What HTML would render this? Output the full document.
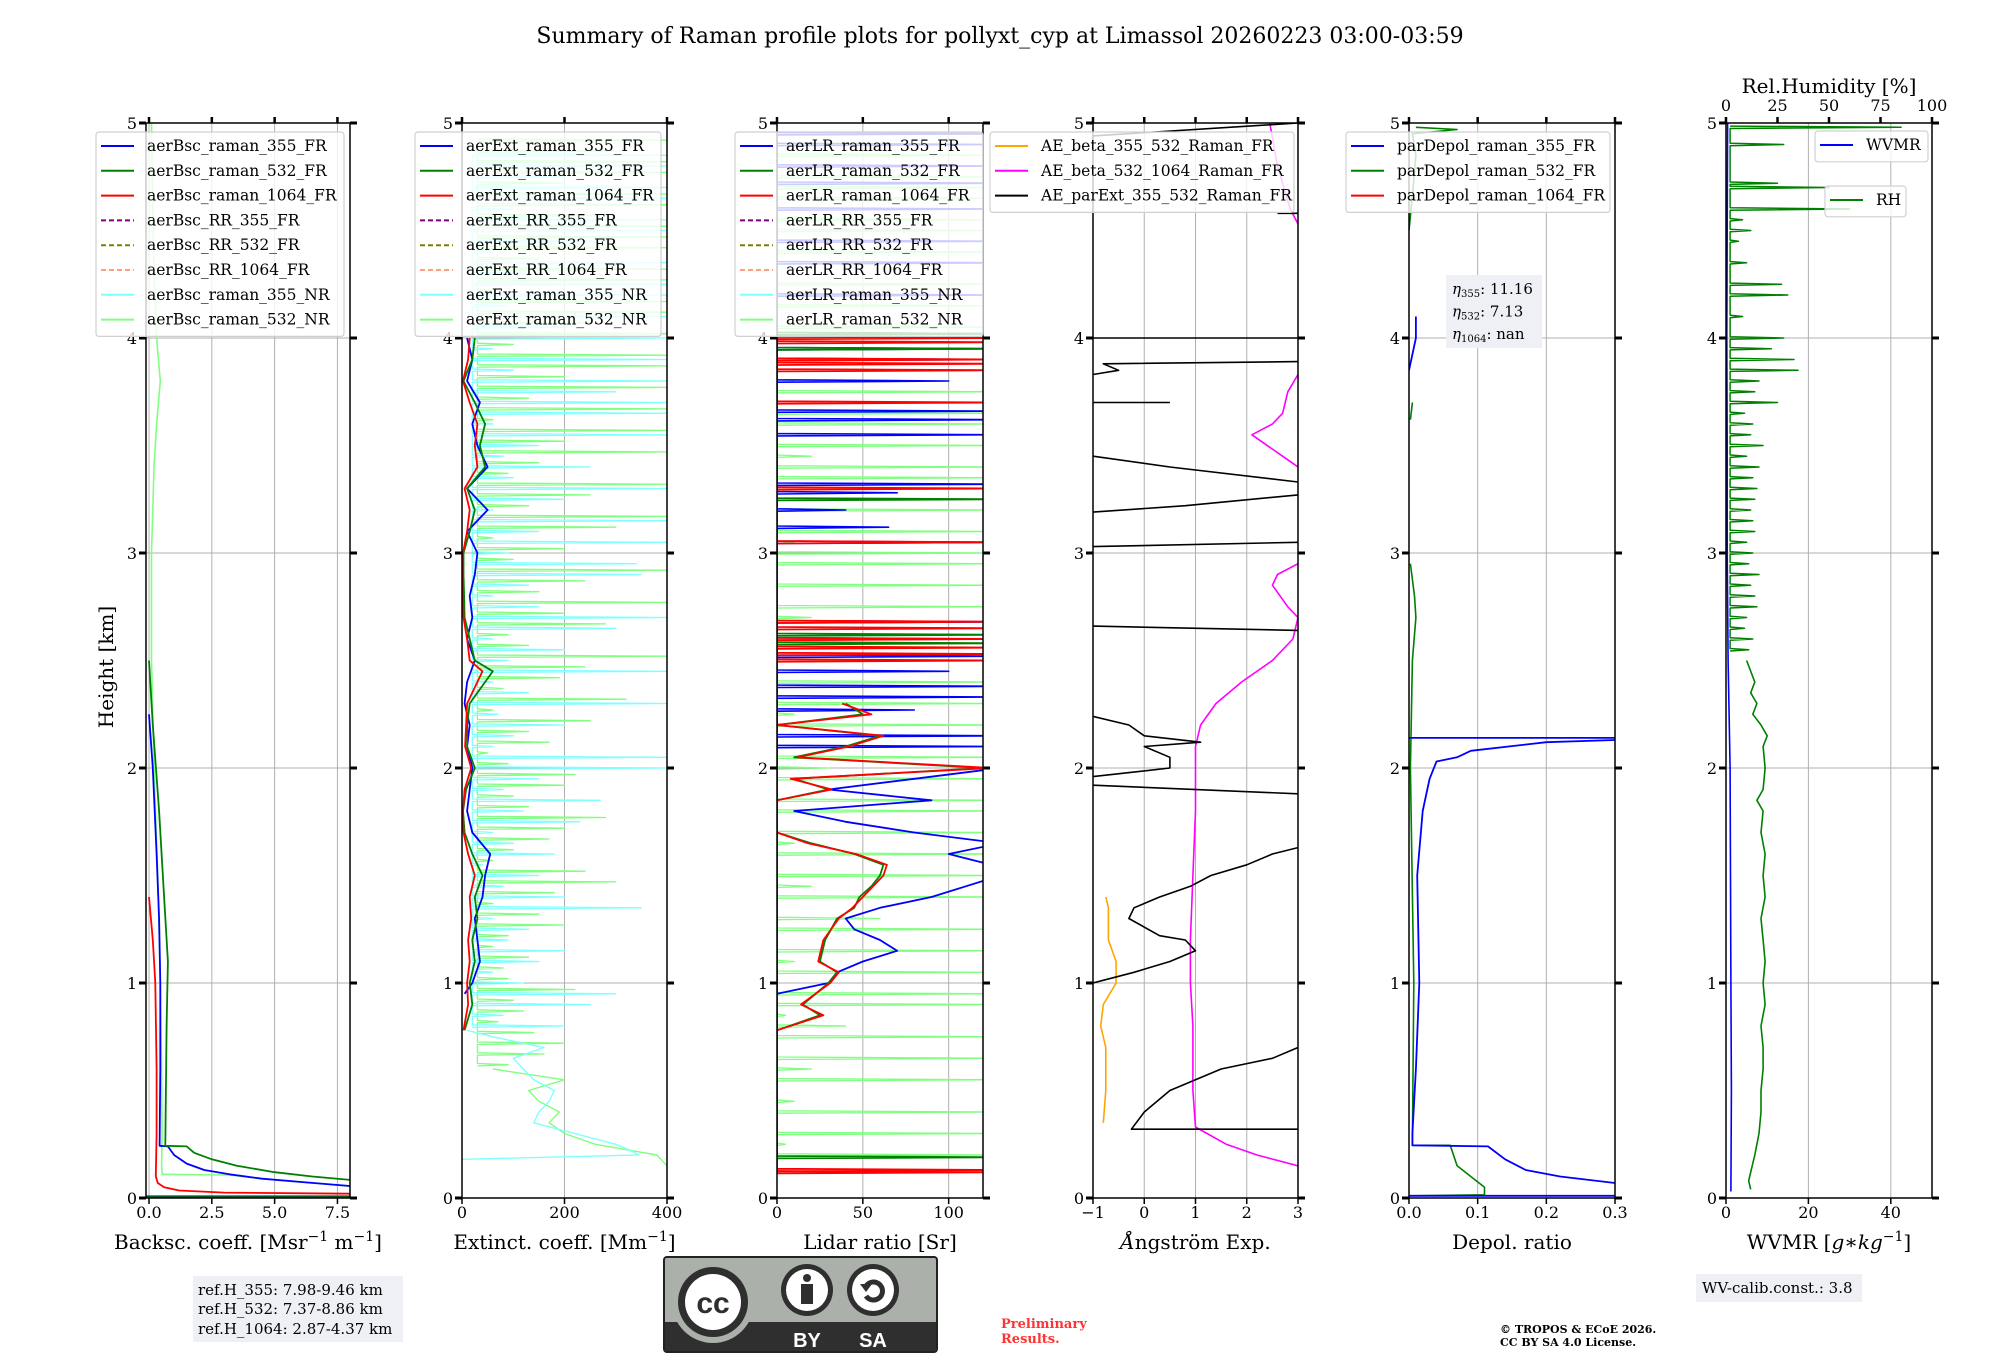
<!DOCTYPE html>
<html><head><meta charset="utf-8"><title>Raman profile summary</title>
<style>
html,body{margin:0;padding:0;background:#fff;}
svg{display:block;font-family:"DejaVu Serif","Liberation Serif",serif;}
</style></head>
<body>
<svg id="fig" xmlns="http://www.w3.org/2000/svg" width="2000" height="1360" viewBox="0 0 2000 1360">
<rect x="0" y="0" width="2000" height="1360" fill="#fff"/>
<text x="1000" y="43" font-size="22" text-anchor="middle">Summary of Raman profile plots for pollyxt_cyp at Limassol 20260223 03:00-03:59</text>
<text transform="translate(113,667) rotate(-90)" font-size="20" text-anchor="middle">Height [km]</text>
<g id="panels"></g>
<g>
<rect x="193" y="1276" width="210" height="66" fill="#eef0f5"/>
<text x="198" y="1295" font-size="15">ref.H_355: 7.98-9.46 km</text>
<text x="198" y="1314" font-size="15">ref.H_532: 7.37-8.86 km</text>
<text x="198" y="1334" font-size="15">ref.H_1064: 2.87-4.37 km</text>
</g>
<g>
<rect x="664" y="1257" width="273" height="95" rx="3" fill="#abb1aa" stroke="#222" stroke-width="2"/>
<rect x="665" y="1322" width="271" height="29" fill="#2f2f2f"/>
<circle cx="713" cy="1302" r="41" fill="#abb1aa"/>
<circle cx="713" cy="1302" r="35" fill="#2f2f2f"/>
<circle cx="713" cy="1302" r="28" fill="#fff"/>
<text x="713" y="1313" font-family="Liberation Sans,sans-serif" font-weight="bold" font-size="30" text-anchor="middle" fill="#2f2f2f">cc</text>
<circle cx="807" cy="1290" r="26" fill="#2f2f2f"/>
<circle cx="807" cy="1290" r="21" fill="#fff"/>
<circle cx="807" cy="1278" r="4" fill="#2f2f2f"/>
<rect x="801" y="1284" width="12" height="20" fill="#2f2f2f"/>
<circle cx="873" cy="1290" r="26" fill="#2f2f2f"/>
<circle cx="873" cy="1290" r="21" fill="#fff"/>
<path d="M866 1286 A9 9 0 1 1 866 1296" fill="none" stroke="#2f2f2f" stroke-width="5"/>
<polygon points="860,1284 872,1284 866,1292" fill="#2f2f2f"/>
<text x="807" y="1347" font-family="Liberation Sans,sans-serif" font-weight="bold" font-size="20" text-anchor="middle" fill="#fff">BY</text>
<text x="873" y="1347" font-family="Liberation Sans,sans-serif" font-weight="bold" font-size="20" text-anchor="middle" fill="#fff">SA</text>
</g>
<text x="1001" y="1328" font-size="13" font-weight="bold" fill="#ff3333">Preliminary</text>
<text x="1001" y="1343" font-size="13" font-weight="bold" fill="#ff3333">Results.</text>
<text x="1500" y="1333" font-size="11" font-weight="bold">© TROPOS &amp; ECoE 2026.</text>
<text x="1500" y="1346" font-size="11" font-weight="bold">CC BY SA 4.0 License.</text>
<g>
<rect x="1696" y="1274" width="166" height="28" fill="#eef0f5"/>
<text x="1702" y="1293" font-size="15">WV-calib.const.: 3.8</text>
</g>
</svg>
<script>
// ---------------- DATA ----------------
// Panel 1: backscatter [Mm-1 sr-1] vs height [km]
const bsc532NR_h=[5,4.6,4.3,4.0,3.8,3.6,3.4,3.2,3.0,2.5,2.0,1.5,1.0,0.6,0.3,0.15,0.11,0.107,0.09,0.075,0.065,0.055];
const bsc532NR_v=[0.1,0.15,0.2,0.3,0.45,0.3,0.2,0.15,0.1,0.1,0.2,0.35,0.45,0.5,0.52,0.5,0.53,3.2,4.5,6,7,8];
const bsc355_h=[2.25,2.0,1.6,1.3,1.0,0.6,0.243,0.24,0.2,0.16,0.13,0.11,0.09,0.075,0.056];
const bsc355_v=[0.0,0.15,0.3,0.4,0.45,0.45,0.42,0.75,1.0,1.5,2.2,3.2,4.5,6,8];
const bsc532_h=[2.5,2.2,1.8,1.4,1.1,0.8,0.243,0.24,0.21,0.18,0.15,0.12,0.1,0.084];
const bsc532_v=[0.0,0.15,0.4,0.6,0.75,0.7,0.65,1.5,1.8,2.5,3.5,5,6.5,8];
const bsc1064_h=[1.4,1.2,1.0,0.6,0.3,0.1,0.07,0.05,0.035,0.025,0.02];
const bsc1064_v=[0.0,0.15,0.25,0.3,0.3,0.27,0.35,0.6,1.2,3,8];
const bscLow_h=[0.005,0.005];
const bscLow_v=[-0.1,8];

// Panel 2: extinction [Mm-1]
const ext355_h=[0.95,1.0,1.1,1.2,1.3,1.4,1.5,1.6,1.7,1.8,1.9,2.0,2.1,2.2,2.3,2.4,2.5,2.6,2.7,2.8,2.9,3.0,3.1,3.2,3.3,3.4,3.5,3.6,3.7,3.8,3.9,4.0];
const ext355_v=[5,20,35,30,25,40,45,55,20,10,15,20,10,15,5,10,25,10,20,15,25,30,10,50,10,50,30,20,35,10,20,10];
const ext532_h=[0.78,0.9,1.0,1.1,1.2,1.3,1.4,1.5,1.6,1.7,1.8,1.9,2.0,2.1,2.2,2.3,2.4,2.45,2.5,2.6,2.7,2.8,2.9,3.0,3.1,3.2,3.3,3.4,3.5,3.6,3.7,3.8,3.9,4.0];
const ext532_v=[5,20,15,25,20,30,25,40,20,5,2,8,25,10,10,15,45,60,25,15,5,4,3,3,15,25,10,45,35,45,25,3,20,25];
const ext1064_h=[0.78,0.9,1.0,1.1,1.2,1.3,1.4,1.5,1.6,1.7,1.8,1.9,2.0,2.1,2.2,2.3,2.4,2.45,2.5,2.6,2.7,2.8,2.9,3.0,3.1,3.2,3.3,3.4,3.5,3.6,3.7,3.8,3.9,4.0];
const ext1064_v=[3,12,10,15,12,18,15,25,12,3,2,5,18,6,8,10,30,40,15,10,3,2,2,2,10,15,5,30,25,30,15,2,12,15];
const ext355NRlow_h=[0.18,0.2,0.22,0.25,0.3,0.35,0.4,0.45,0.5,0.55,0.6,0.65,0.7,0.75,0.78];
const ext355NRlow_v=[0,345,330,300,220,140,150,170,180,140,120,100,160,60,10];
const ext532NRlow_h=[0.15,0.2,0.25,0.3,0.35,0.4,0.45,0.5,0.55,0.6];
const ext532NRlow_v=[400,380,260,200,170,190,150,130,200,60];
const nrStepKm=0.05;
const ext355NRStartKm=0.8;
const ext355NR_v=[200,80,250,300,120,60,150,200,90,130,60,350,200,80,150,40,180,100,60,230,120,270,80,150,400,400,60,100,200,70,400,130,60,400,90,200,60,300,400,150,60,130,350,340,90,400,150,400,60,200,400,100,250,80,150,400,60,400,400,300,400,100,400,60,400,200,400,90,400,400,150,400,60,300,400,400,100,400,400,200,400,400];
const ext532NRStartKm=0.62;
const ext532NR_v=[90,160,200,140,70,120,100,220,90,80,130,60,90,200,150,60,180,300,240,60,100,170,200,280,130,100,200,220,90,50,170,130,250,60,320,80,190,240,400,130,90,280,200,400,150,240,400,100,200,60,300,400,130,250,400,90,150,400,200,400,60,400,130,400,200,400,400,100,400,250,400,400,60,400,400,150,400,400,400,300,400,400,200,400,400,300,400];

// Panel 3: lidar ratio [sr]
const lr355_h=[0.95,1.0,1.05,1.1,1.15,1.2,1.25,1.3,1.35,1.4,1.45,1.5,1.55,1.6,1.65,1.7,1.75,1.8,1.85,1.9,1.95,2.0];
const lr355_v=[0,30,35,50,70,60,45,40,60,90,110,130,125,100,130,80,40,10,90,30,80,130];
const lr355Spike_h=[2.1,2.15,2.27,2.33,2.38,2.45,2.52,2.6,2.68,3.05,3.12,3.2,3.28,3.32,3.55,3.62,3.66,3.8,3.9,3.95,4.02,4.2,4.35,4.45,4.6,4.72,4.8,4.9,4.95];
const lr355Spike_v=[130,130,80,130,130,100,130,130,130,130,65,40,70,130,130,130,130,100,130,130,130,130,130,130,130,130,130,130,130];
const lr532_h=[0.78,0.85,0.9,1.0,1.05,1.1,1.2,1.3,1.35,1.4,1.45,1.5,1.55,1.6,1.65,1.7,1.85,1.9,1.95,2.0,2.05,2.1,2.15,2.2,2.25,2.3];
const lr532_v=[0,25,15,30,35,25,28,35,45,48,55,60,62,45,20,0,0,30,10,120,10,40,60,0,50,40];
const lr1064_h=[0.78,0.85,0.9,1.0,1.05,1.1,1.2,1.3,1.35,1.4,1.45,1.5,1.55,1.6,1.65,1.7,1.85,1.9,1.95,2.0,2.05,2.1,2.15,2.2,2.25,2.3];
const lr1064_v=[0,27,14,31,36,24,27,36,44,50,56,62,64,46,18,0,0,32,8,125,12,42,62,0,55,38];
const lrRedSpike_h=[0.12,0.13,2.5,2.53,2.56,2.6,2.65,2.68,3.05,3.3,3.7,3.85,3.88,3.9,3.98,4.0];
const lrRedSpike_v=[130,130,130,130,130,130,130,130,130,130,130,130,130,130,130,130];
const lrGreenSpike_h=[0.19,2.58,2.62,3.25,3.95,4.02];
const lrGreenSpike_v=[130,130,130,130,130,130];
const lr532NRStartKm=0.2;
const lr532NR_v=[130,5,130,0,130,10,0,130,20,130,0,130,40,5,130,130,0,120,10,130,0,130,60,0,130,20,130,0,130,10,130,0,130,130,0,130,30,130,0,130,130,10,130,0,130,50,130,0,130,130,20,130,0,130,0,130,130,10,130,0,130,130,0,130,130,20,130,0,130,130,0,130,10,130,130,0,130,130,0,130,130,130,0,130,130,20,130,130,0,130,130,130,0,130,130,130];

// Panel 4: Angstrom exponents
const ae355_532_h=[0.35,0.5,0.7,0.8,0.9,1.0,1.1,1.2,1.35,1.4];
const ae355_532_v=[-0.8,-0.75,-0.75,-0.85,-0.8,-0.55,-0.55,-0.7,-0.7,-0.75];
const ae532_1064_h=[0.15,0.2,0.25,0.33,0.5,0.8,1.0,1.2,1.5,1.8,2.0,2.1,2.2,2.3,2.4,2.5,2.6,2.7,2.75,2.85,2.9,2.95,null,3.4,3.45,3.55,3.6,3.65,3.75,3.83,null,4.53,4.6,4.8,5.0];
const ae532_1064_v=[3,2.2,1.6,1.0,0.95,0.95,0.9,0.9,0.95,1.0,1.0,1.0,1.1,1.4,1.9,2.5,2.9,3.0,2.8,2.5,2.6,3.0,null,3.0,2.7,2.1,2.5,2.7,2.8,3.0,null,3.0,2.85,2.6,2.45];
const aeExt_h=[0.32,0.32,0.4,0.5,0.6,0.65,0.7,null,1.0,1.05,1.1,1.15,1.2,1.22,1.3,1.35,1.4,1.45,1.5,1.55,1.6,1.63,null,1.88,1.92,null,1.96,2.0,2.05,2.1,2.12,2.15,2.2,2.24,null,2.66,2.64,null,3.03,3.05,null,3.19,3.22,3.27,null,3.33,3.4,3.45,null,3.7,3.7,null,3.83,3.85,3.88,3.89,null,4.0,4.0,null,4.58,4.58,null,4.94,5.0];
const aeExt_v=[3,-0.25,0,0.5,1.5,2.5,3,null,-1,-0.2,0.5,1.0,0.8,0.3,-0.3,-0.2,0.3,0.9,1.3,2.0,2.5,3,null,3,-1,null,-1,0.5,0.5,0,1.1,0.0,-0.3,-1,null,-1,3,null,-1,3,null,-1,0.8,3,null,3,0.5,-1,null,-1,0.5,null,-1,-0.5,-0.8,3,null,-1,3,null,2.6,3,null,-1,3];

// Panel 5: particle depolarization ratio
const dep355_h=[0.01,0.01,null,0.07,0.1,0.13,0.18,0.24,0.245,0.3,0.6,1.0,1.5,1.8,1.95,2.03,2.05,2.08,2.12,2.13,null,2.14,2.14,null,3.85,4.0,4.1];
const dep355_v=[0,0.3,null,0.3,0.22,0.17,0.14,0.115,0.005,0.005,0.01,0.015,0.012,0.02,0.03,0.04,0.07,0.09,0.2,0.3,null,0.3,0.0,null,0.0,0.01,0.01];
const dep532_h=[0.01,0.015,0.05,0.1,0.15,0.245,0.245,1.0,2.0,2.5,2.7,2.8,2.95,null,3.62,3.7,null,4.5,4.6,4.7,4.85,4.95,4.97,4.98];
const dep532_v=[0.0,0.11,0.11,0.09,0.07,0.06,0.005,0.007,0.002,0.005,0.01,0.008,0.002,null,0.002,0.005,null,0.0,0.003,0.006,0.01,0.005,0.07,0.01];

// Panel 6: WVMR [g/kg] and RH [%]
const wvmr_h=[0.03,0.5,1.0,1.5,2.0,2.5,3.0,3.5,4.0,4.5,5.0];
const wvmr_v=[1.2,1.3,1.2,1.1,1.0,0.5,0.3,0.3,0.2,0.3,0.4];
const rhLow_h=[0.04,0.08,0.12,0.2,0.3,0.4,0.5,0.6,0.7,0.8,0.9,1.0,1.1,1.2,1.3,1.4,1.5,1.6,1.7,1.8,1.85,1.9,2.0,2.1,2.15,2.2,2.25,2.3,2.35,2.4,2.5];
const rhLow_v=[12,11,12,14,16,17,17,18,18,17,19,18,19,18,17,19,18,19,17,18,15,18,19,18,20,17,13,15,12,14,10];
const rhSpike_h=[2.55,2.6,2.65,2.7,2.75,2.8,2.85,2.9,2.95,3.0,3.05,3.1,3.15,3.2,3.25,3.3,3.35,3.4,3.45,3.5,3.55,3.6,3.65,3.7,3.75,3.8,3.85,3.9,3.95,4.0,4.1,4.2,4.25,4.35,4.45,4.5,4.55,4.6,4.7,4.72,4.9,4.98];
const rhSpike_v=[11,13,9,10,15,14,12,16,11,13,10,14,13,12,14,15,13,16,10,18,12,13,9,25,14,16,35,33,22,28,8,30,27,10,6,12,8,60,50,25,28,85];
const rhBase=2;

// axis tick labels
const p1Ticks=[0,2.5,5,7.5]; const p1Labels=["0.0","2.5","5.0","7.5"];
const p2Ticks=[0,200,400]; const p2Labels=["0","200","400"];
const p3Ticks=[0,50,100]; const p3Labels=["0","50","100"];
const p4Ticks=[-1,0,1,2,3]; const p4Labels=["\u22121","0","1","2","3"];
const p5Ticks=[0,0.1,0.2,0.3]; const p5Labels=["0.0","0.1","0.2","0.3"];
const p6Ticks=[0,20,40]; const p6Labels=["0","20","40"];
const rhTicks=[0,25,50,75,100]; const rhLabels=["0","25","50","75","100"];
const yTicks=[0,1,2,3,4,5];

// ---------------- DRAWING ----------------
const NS="http://www.w3.org/2000/svg";
const TOP=123, BOT=1198, HMAX=5;
const root=document.getElementById('panels');
function mk(tag,parent){const e=document.createElementNS(NS,tag);parent.appendChild(e);return e;}
function yS(h){return BOT-(h/HMAX)*(BOT-TOP);}

function makePanel(id,L,R,xmin,xmax){
  const p={L,R,xmin,xmax,g:mk('g',root)};
  
  
  p.x=v=>L+(v-xmin)/(xmax-xmin)*(R-L);
  const cp=mk('clipPath',p.g); cp.setAttribute('id','clip-'+id);
  const cr=mk('rect',cp); cr.setAttribute('x',L); cr.setAttribute('y',TOP); cr.setAttribute('width',R-L); cr.setAttribute('height',BOT-TOP);
  p.grid=mk('g',p.g);
  p.data=mk('g',p.g); p.data.setAttribute('clip-path','url(#clip-'+id+')');
  return p;
}
function grid(p,xt){
  xt.forEach(t=>{const l=mk('line',p.grid);
    
    
    const X=p.x(t);l.setAttribute('x1',X);l.setAttribute('x2',X);l.setAttribute('y1',TOP);l.setAttribute('y2',BOT);l.setAttribute('stroke','#b0b0b0');l.setAttribute('stroke-width','1');});
  yTicks.forEach(t=>{const l=mk('line',p.grid);
    
    
    const Y=yS(t);l.setAttribute('x1',p.L);l.setAttribute('x2',p.R);l.setAttribute('y1',Y);l.setAttribute('y2',Y);l.setAttribute('stroke','#b0b0b0');l.setAttribute('stroke-width','1');});
}
function drawPts(p,name,pts,color,w){
  const pl=mk('polyline',p.data);
  
  
  pl.setAttribute('points',pts.join(' '));pl.setAttribute('fill','none');pl.setAttribute('stroke',color);pl.setAttribute('stroke-width',w||1.6);
  pl.setAttribute('stroke-linejoin','round');
}
function series(p,name,hs,vs,color,w){
  let segs=[],cur=[];
  for(let i=0;i<hs.length;i++){
    if(hs[i]===null||vs[i]===null){if(cur.length)segs.push(cur);cur=[];continue;}
    cur.push(p.x(vs[i]).toFixed(1)+','+yS(hs[i]).toFixed(1));
  }
  if(cur.length)segs.push(cur);
  segs.forEach(s=>drawPts(p,name,s,color,w));
}
function spikes(p,name,hs,vs,base,color,w,xf){
  const X=xf||p.x;
  const pts=[];
  for(let i=0;i<hs.length;i++){
    const y=yS(hs[i]);
    pts.push(X(base).toFixed(1)+','+(y+1.2).toFixed(1));
    pts.push(X(vs[i]).toFixed(1)+','+y.toFixed(1));
    pts.push(X(base).toFixed(1)+','+(y-1.2).toFixed(1));
  }
  drawPts(p,name,pts,color,w);
}
function stepHeights(start,vs){return vs.map((v,i)=>start+i*nrStepKm);}
function frame(p,xt,xl,xlabel,opts){
  opts=opts||{};
  const g=p.g;
  const r=mk('rect',g);  
  r.setAttribute('x',p.L);r.setAttribute('y',TOP);r.setAttribute('width',p.R-p.L);r.setAttribute('height',BOT-TOP);r.setAttribute('fill','none');r.setAttribute('stroke','#000');r.setAttribute('stroke-width','1.5');
  yTicks.forEach(t=>{
    const Y=yS(t);
    [[p.L-7,p.L],[p.R,p.R+7]].forEach(a=>{const l=mk('line',g);
      
      
      l.setAttribute('x1',a[0]);l.setAttribute('x2',a[1]);l.setAttribute('y1',Y);l.setAttribute('y2',Y);l.setAttribute('stroke','#000');l.setAttribute('stroke-width','3');});
    const tx=mk('text',g);
    
    
    tx.setAttribute('x',p.L-9);tx.setAttribute('y',Y+6);tx.setAttribute('font-size','16');tx.setAttribute('text-anchor','end');tx.textContent=String(t);
  });
  xt.forEach((t,i)=>{
    const X=p.x(t);
    const l=mk('line',g);
    
    
    l.setAttribute('x1',X);l.setAttribute('x2',X);l.setAttribute('y1',BOT);l.setAttribute('y2',BOT+6);l.setAttribute('stroke','#000');l.setAttribute('stroke-width','1.5');
    if(!opts.noTop){const l2=mk('line',g);
      
      
      l2.setAttribute('x1',X);l2.setAttribute('x2',X);l2.setAttribute('y1',TOP);l2.setAttribute('y2',TOP-6);l2.setAttribute('stroke','#000');l2.setAttribute('stroke-width','2.5');}
    const tx=mk('text',g);
    
    
    tx.setAttribute('x',X);tx.setAttribute('y',BOT+20);tx.setAttribute('font-size','16');tx.setAttribute('text-anchor','middle');tx.textContent=xl[i];
  });
  const lab=mk('text',g);
  
  
  lab.setAttribute('x',(p.L+p.R)/2);lab.setAttribute('y',BOT+51);lab.setAttribute('font-size','20');lab.setAttribute('text-anchor','middle');
  lab.innerHTML=xlabel;
}
function legend(p,x,y,w,entries){
  const g=mk('g',p.g);
  
  
  const r=mk('rect',g);
  r.setAttribute('x',x);r.setAttribute('y',y);r.setAttribute('width',w);r.setAttribute('height',entries.length*24.8+6);r.setAttribute('rx','3');r.setAttribute('fill','#fff');r.setAttribute('fill-opacity','0.8');r.setAttribute('stroke','#d0d0d0');r.setAttribute('stroke-width','1.2');
  entries.forEach((e,i)=>{
    const Y=y+14+i*24.8;
    const l=mk('line',g);
    
    
    l.setAttribute('x1',x+5);l.setAttribute('x2',x+38);l.setAttribute('y1',Y);l.setAttribute('y2',Y);l.setAttribute('stroke',e[1]);l.setAttribute('stroke-width','2');
    if(e[2])l.setAttribute('stroke-dasharray','5,3');
    const t=mk('text',g);
    
    
    t.setAttribute('x',x+51);t.setAttribute('y',Y+5);t.setAttribute('font-size','15.5');t.textContent=e[0];
  });
}

// Panel 1
const p1=makePanel('backscatter-panel',146,350,-0.12,8);
grid(p1,p1Ticks);
series(p1,'aerBsc-raman-532-NR',bsc532NR_h,bsc532NR_v,'#80ff80',1.6);
series(p1,'aerBsc-raman-355-FR',bsc355_h,bsc355_v,'#0000ff',1.8);
series(p1,'aerBsc-raman-532-FR',bsc532_h,bsc532_v,'#008000',1.8);
series(p1,'aerBsc-raman-1064-FR',bsc1064_h,bsc1064_v,'#ff0000',1.8);
series(p1,'aerBsc-low-bin',bscLow_h,bscLow_v,'#005a2a',3);
frame(p1,p1Ticks,p1Labels,'Backsc. coeff. [Msr<tspan dy="-8" font-size="14">\u22121</tspan><tspan dy="8"> m</tspan><tspan dy="-8" font-size="14">\u22121</tspan><tspan dy="8">]</tspan>');
const bscLeg=[['aerBsc_raman_355_FR','#0000ff'],['aerBsc_raman_532_FR','#008000'],['aerBsc_raman_1064_FR','#ff0000'],['aerBsc_RR_355_FR','#800080',1],['aerBsc_RR_532_FR','#808000',1],['aerBsc_RR_1064_FR','#ffa07a',1],['aerBsc_raman_355_NR','#80ffff'],['aerBsc_raman_532_NR','#80ff80']];
legend(p1,96,132,248,bscLeg);

// Panel 2
const p2=makePanel('extinction-panel',462,667,0,400);
grid(p2,p2Ticks);
series(p2,'aerExt-raman-532-NR-low',ext532NRlow_h,ext532NRlow_v,'#80ff80',1.4);
spikes(p2,'aerExt-raman-532-NR',stepHeights(ext532NRStartKm,ext532NR_v),ext532NR_v,30,'#80ff80',1.3);
series(p2,'aerExt-raman-355-NR-low',ext355NRlow_h,ext355NRlow_v,'#80ffff',1.4);
spikes(p2,'aerExt-raman-355-NR',stepHeights(ext355NRStartKm,ext355NR_v),ext355NR_v,20,'#80ffff',1.3);
series(p2,'aerExt-raman-355-FR',ext355_h,ext355_v,'#0000ff',1.8);
series(p2,'aerExt-raman-532-FR',ext532_h,ext532_v,'#008000',1.8);
series(p2,'aerExt-raman-1064-FR',ext1064_h,ext1064_v,'#ff0000',1.8);
frame(p2,p2Ticks,p2Labels,'Extinct. coeff. [Mm<tspan dy="-8" font-size="14">\u22121</tspan><tspan dy="8">]</tspan>');
legend(p2,415,132,246,bscLeg.map(e=>[e[0].replace('aerBsc','aerExt'),e[1],e[2]]));

// Panel 3
const p3=makePanel('lidar-ratio-panel',777,983,0,120);
grid(p3,p3Ticks);
spikes(p3,'aerLR-raman-532-NR',stepHeights(lr532NRStartKm,lr532NR_v),lr532NR_v,0,'#80ff80',1.3);
series(p3,'aerLR-raman-355-FR',lr355_h,lr355_v,'#0000ff',1.8);
spikes(p3,'aerLR-raman-355-FR-upper',lr355Spike_h,lr355Spike_v,0,'#0000ff',1.6);
series(p3,'aerLR-raman-532-FR',lr532_h,lr532_v,'#008000',1.8);
spikes(p3,'aerLR-raman-532-FR-upper',lrGreenSpike_h,lrGreenSpike_v,0,'#008000',1.8);
series(p3,'aerLR-raman-1064-FR',lr1064_h,lr1064_v,'#ff0000',1.8);
spikes(p3,'aerLR-raman-1064-FR-upper',lrRedSpike_h,lrRedSpike_v,0,'#ff0000',1.8);
frame(p3,p3Ticks,p3Labels,'Lidar ratio [Sr]');
legend(p3,735,132,248,bscLeg.map(e=>[e[0].replace('aerBsc','aerLR'),e[1],e[2]]));

// Panel 4
const p4=makePanel('angstrom-panel',1093,1298,-1,3);
grid(p4,p4Ticks);
series(p4,'AE-beta-355-532',ae355_532_h,ae355_532_v,'#ffa500',1.6);
series(p4,'AE-beta-532-1064',ae532_1064_h,ae532_1064_v,'#ff00ff',1.6);
series(p4,'AE-parExt-355-532',aeExt_h,aeExt_v,'#000000',1.6);
frame(p4,p4Ticks,p4Labels,'<tspan font-style="italic">Å</tspan>ngström Exp.');
legend(p4,990,132,304,[['AE_beta_355_532_Raman_FR','#ffa500'],['AE_beta_532_1064_Raman_FR','#ff00ff'],['AE_parExt_355_532_Raman_FR','#000000']]);

// Panel 5
const p5=makePanel('depol-panel',1409,1615,0,0.3);
grid(p5,p5Ticks);
series(p5,'parDepol-532',dep532_h,dep532_v,'#008000',1.6);
series(p5,'parDepol-355',dep355_h,dep355_v,'#0000ff',1.8);
frame(p5,p5Ticks,p5Labels,'Depol. ratio');
legend(p5,1346,132,264,[['parDepol_raman_355_FR','#0000ff'],['parDepol_raman_532_FR','#008000'],['parDepol_raman_1064_FR','#ff0000']]);
(function(){
  const g=mk('g',p5.g);
  
  
  const r=mk('rect',g);r.setAttribute('x',1446);r.setAttribute('y',275);r.setAttribute('width',96);r.setAttribute('height',73);r.setAttribute('fill','#eef0f5');
  const rows=[['355','11.16'],['532','7.13'],['1064','nan']];
  rows.forEach((rw,i)=>{const t=mk('text',g);t.setAttribute('x',1452);t.setAttribute('y',294+i*22.5);t.setAttribute('font-size','15');
    t.innerHTML='<tspan font-style="italic">η</tspan><tspan font-size="10" dy="3">'+rw[0]+'</tspan><tspan dy="-3">: '+rw[1]+'</tspan>';});
})();

// Panel 6
const p6=makePanel('wvmr-panel',1726,1932,0,50);
grid(p6,p6Ticks);
series(p6,'wvmr-line',wvmr_h,wvmr_v,'#0000ff',1.6);
(function(){
  const rhX=v=>p6.L+v/100*(p6.R-p6.L);
  const pts=rhLow_h.map((h,i)=>rhX(rhLow_v[i]).toFixed(1)+','+yS(h).toFixed(1));
  drawPts(p6,'rh-line',pts,'#008000',1.6);
  spikes(p6,'rh-line-upper',rhSpike_h,rhSpike_v,rhBase,'#008000',1.5,rhX);
  frame(p6,p6Ticks,p6Labels,'WVMR [<tspan font-style="italic">g</tspan>∗<tspan font-style="italic">kg</tspan><tspan dy="-8" font-size="14">\u22121</tspan><tspan dy="8">]</tspan>',{noTop:true});
  rhTicks.forEach((t,i)=>{const X=rhX(t);
    const l=mk('line',p6.g);
    
    
    l.setAttribute('x1',X);l.setAttribute('x2',X);l.setAttribute('y1',TOP);l.setAttribute('y2',TOP-6);l.setAttribute('stroke','#000');l.setAttribute('stroke-width','2.5');
    const tx=mk('text',p6.g);
    
    
    tx.setAttribute('x',X);tx.setAttribute('y',TOP-12);tx.setAttribute('font-size','16');tx.setAttribute('text-anchor','middle');tx.textContent=rhLabels[i];});
  const ttl=mk('text',p6.g);
  
  
  ttl.setAttribute('x',1829);ttl.setAttribute('y',93);ttl.setAttribute('font-size','20');ttl.setAttribute('text-anchor','middle');ttl.textContent='Rel.Humidity [%]';
})();
legend(p6,1815,131,113,[['WVMR','#0000ff']]);
legend(p6,1825,186,81,[['RH','#008000']]);
</script>
</body></html>
